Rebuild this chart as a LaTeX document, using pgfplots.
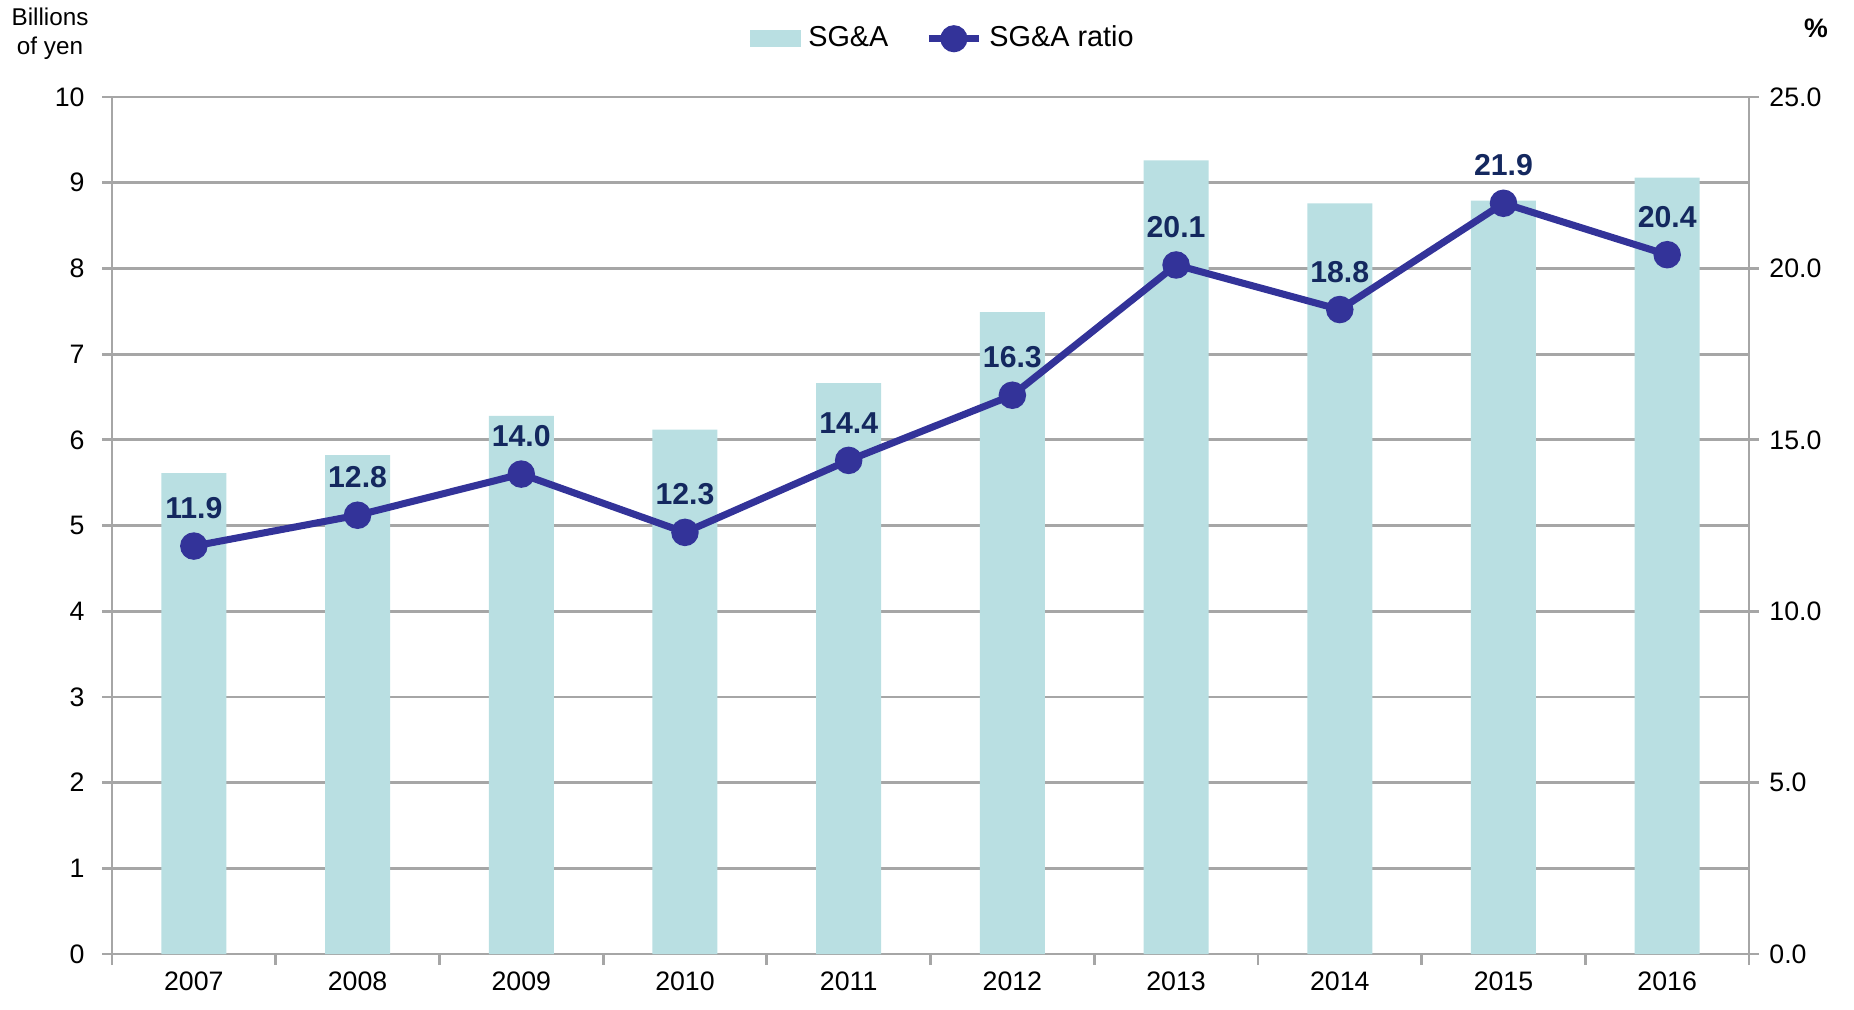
\documentclass[border=0pt]{standalone}
\usepackage{pgfplots}
\pgfplotsset{compat=1.18}
\usepackage{fontspec}
\setmainfont{Liberation Sans}
\definecolor{barc}{HTML}{B9DFE2}
\definecolor{linec}{HTML}{333399}
\definecolor{labc}{HTML}{14285F}
\definecolor{gridc}{HTML}{A6A6A6}
\begin{document}
\begin{tikzpicture}
\useasboundingbox (0,0) rectangle (185.4mm,100.9mm);
\begin{axis}[
  at={(11.2mm,5.5mm)}, anchor=south west,
  scale only axis, width=163.7mm, height=85.7mm,
  xmin=-0.5, xmax=9.5, ymin=0, ymax=10,
  axis y line*=left, axis x line*=bottom,
  axis line style={gridc, line width=0.8pt, -},
  ytick={0,1,...,10},
  xtick={0,...,9},
  xticklabels={2007,2008,2009,2010,2011,2012,2013,2014,2015,2016},
  minor xtick={-0.5,0.5,...,9.5},
  major x tick style={draw=none},
  minor x tick style={gridc, line width=0.8pt},
  minor tick length=1.1mm,
  y tick style={gridc, line width=0.8pt},
  major tick length=1.0mm,
  tick align=outside,
  ymajorgrids, grid style={gridc, line width=0.8pt},
  tick label style={font=\fontsize{7.6}{8.5}\selectfont},
  yticklabel style={xshift=-0.5mm},
  xticklabel style={yshift=0.5mm},
  /pgf/number format/assume math mode=true,
]
\addplot[ybar, bar width=6.5mm, fill=barc, draw=none] coordinates {
(0,5.61) (1,5.82) (2,6.28) (3,6.12) (4,6.66) (5,7.49) (6,9.26) (7,8.76) (8,8.79) (9,9.06)};
\end{axis}
\begin{axis}[
  at={(11.2mm,5.5mm)}, anchor=south west,
  scale only axis, width=163.7mm, height=85.7mm,
  xmin=-0.5, xmax=9.5, ymin=0, ymax=25,
  axis y line*=right, axis x line=none,
  axis line style={gridc, line width=0.8pt, -},
  ytick={0,5,...,25},
  y tick style={gridc, line width=0.8pt},
  major tick length=1.0mm,
  tick align=outside,
  yticklabel={\pgfmathprintnumber[fixed,fixed zerofill,precision=1]{\tick}},
  tick label style={font=\fontsize{7.6}{8.5}\selectfont},
  yticklabel style={xshift=-0.2mm},
  /pgf/number format/assume math mode=true,
  legend style={at={(0.509,1.068)}, anchor=center, draw=none, fill=none,
    legend columns=2, font=\fontsize{8.2}{9}\selectfont,
    /tikz/every even column/.append style={column sep=3mm}},
  legend cell align=left,
]
\addlegendimage{legend image code/.code={\fill[barc] (0mm,-0.8mm) rectangle (5mm,0.8mm);}}
\addlegendentry{SG\&A}
\addplot[linec, line width=2pt, mark=*, mark size=2.9pt,
  mark options={fill=linec, draw=linec},
  nodes near coords={\pgfmathprintnumber[fixed,fixed zerofill,precision=1]{\pgfplotspointmeta}},
  every node near coord/.append style={font=\bfseries\fontsize{8.6}{9.5}\selectfont, text=labc, anchor=south, yshift=1.2mm},
  legend image code/.code={\draw[linec, line width=2pt] (0mm,0mm) -- (5mm,0mm); \fill[linec] (2.5mm,0mm) circle (1mm);}
] coordinates {
(0,11.9) (1,12.8) (2,14.0) (3,12.3) (4,14.4) (5,16.3) (6,20.1) (7,18.8) (8,21.9) (9,20.4)};
\addlegendentry{SG\&A ratio}
\end{axis}
\node[align=center, font=\fontsize{6.9}{8.2}\selectfont] at (5.0mm,97.5mm) {Billions\\of yen};
\node[font=\bfseries\fontsize{7.6}{8}\selectfont] at (181.6mm,98.1mm) {\%};
\end{tikzpicture}
\end{document}
